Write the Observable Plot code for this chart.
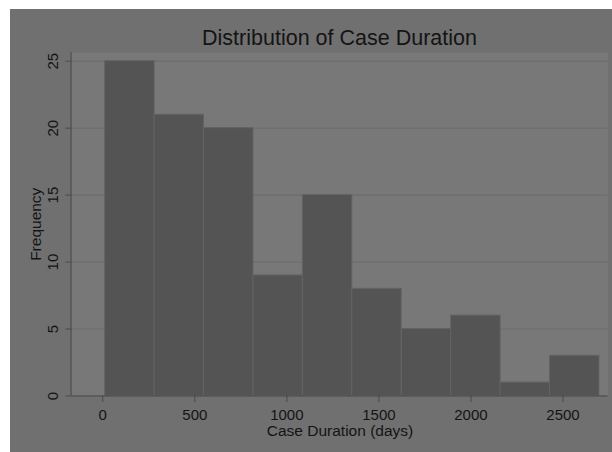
<!DOCTYPE html>
<html>
<head>
<meta charset="utf-8">
<script src="https://cdn.jsdelivr.net/npm/d3@7"></script>
<script src="https://cdn.jsdelivr.net/npm/@observablehq/plot@0.6"></script>
<style>
  html, body { margin: 0; padding: 0; background: #ffffff; }
  #wrap {
    position: absolute; left: 10px; top: 9px; width: 602px; height: 443px;
    background: #707070; font-family: "Liberation Sans", Arial, sans-serif; overflow: hidden;
  }
  #title {
    box-sizing: border-box; height: 40px; margin-left: 61.5px; width: 536px;
    padding-top: 18.8px; font-size: 21.5px; line-height: 21.2px; text-align: center; color: #141414;
    white-space: nowrap; overflow: visible;
  }
  #chart svg { display: block; }
</style>
</head>
<body>
<div id="wrap">
  <div id="title">Distribution of Case Duration</div>
  <div id="chart"></div>
</div>
<script>
const binEdges = [13, 281.5, 550, 818.5, 1087, 1355.5, 1624, 1892.5, 2161, 2429.5, 2698];
const counts = [25, 21, 20, 9, 15, 8, 5, 6, 1, 3];
const xTicks = [0, 500, 1000, 1500, 2000, 2500];
const yTicks = [0, 5, 10, 15, 20, 25];
const xLabel = "Case Duration (days)";
const yLabel = "Frequency";

const bins = counts.map((c, i) => ({x1: binEdges[i], x2: binEdges[i + 1], y: c}));
const xMin = -167.3, xMax = 2744.5;

const chart = Plot.plot({
  width: 602,
  height: 403,
  marginLeft: 61.5,
  marginRight: 4.5,
  marginTop: 3,
  marginBottom: 56.5,
  style: {background: "transparent", fontFamily: "Liberation Sans, Arial, sans-serif", fontSize: "15px", color: "#141414"},
  x: {domain: [xMin, xMax]},
  y: {domain: [0, 25.65]},
  marks: [
    Plot.frame({fill: "#787878", stroke: null}),
    Plot.gridY(yTicks, {stroke: "#6b6b6b", strokeOpacity: 1}),
    Plot.rectY(bins, {x1: "x1", x2: "x2", y: "y", fill: "#545454", stroke: "#636363", strokeWidth: 1}),
    Plot.ruleY([0], {stroke: "#4a4a4a"}),
    Plot.ruleX([xMin], {dx: -1, stroke: "#4a4a4a"}),
    Plot.axisX(xTicks, {tickSize: 6.5, tickPadding: 7, tickFormat: d => String(d), label: null, stroke: "#4a4a4a", fill: "#141414"}),
    Plot.axisY(yTicks, {tickSize: 6, tickFormat: () => "", label: null, stroke: "#4a4a4a"}),
    Plot.text(yTicks, {x: xMin, y: d => d, text: d => String(d), dx: -14.2, rotate: -90, lineAnchor: "bottom", textAnchor: "middle", fontSize: 15, fill: "#141414"}),
    Plot.text([xLabel], {frameAnchor: "bottom", dy: 40, lineAnchor: "bottom", fontSize: 15.5, fill: "#141414"}),
    Plot.text([yLabel], {frameAnchor: "left", dx: -31.5, rotate: -90, lineAnchor: "bottom", textAnchor: "middle", fontSize: 15.5, fill: "#141414"})
  ]
});
document.getElementById("chart").appendChild(chart);
</script>
</body>
</html>
